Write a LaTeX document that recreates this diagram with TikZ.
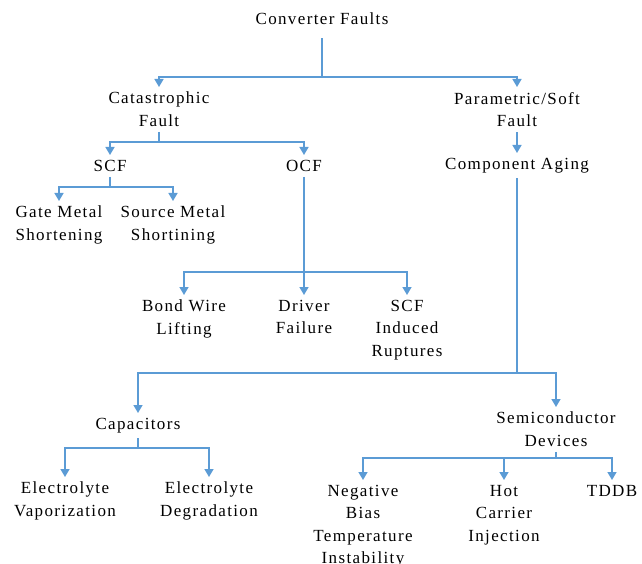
\documentclass[tikz,border=0pt]{standalone}
\usepackage{fontspec}
\setmainfont{Liberation Serif}[LetterSpace=8]
\usetikzlibrary{arrows.meta}
\definecolor{linkblue}{HTML}{5B9BD5}
\tikzset{
  label/.style={anchor=north, align=center, inner xsep=2pt, inner ysep=5pt,
    font=\fontsize{17}{22.5}\selectfont},
  link/.style={draw=linkblue, line width=1.5pt},
  arrowlink/.style={link, -{Triangle[length=8pt,width=9pt]}},
}
\begin{document}
\begin{tikzpicture}[x=1pt, y=-1pt]
\useasboundingbox (0,0) rectangle (642,564);

% fault categories
\node[label] (conv)   at (322,8)   {Converter Faults};
\node[label] (cat)    at (159,87)  {Catastrophic\\Fault};
\node[label] (par)    at (517,87)  {Parametric/Soft\\Fault};
\node[label] (scf)    at (110,155) {SCF};
\node[label] (ocf)    at (304,155) {OCF};
\node[label] (gate)   at (59,201)  {Gate Metal\\Shortening};
\node[label] (source) at (173,201) {Source Metal\\Shortining};
\node[label] (bond)   at (184,295) {Bond Wire\\Lifting};
\node[label] (driver) at (304,295) {Driver\\Failure};
\node[label] (rupt)   at (407,295) {SCF\\Induced\\Ruptures};
\node[label] (aging)  at (517,153) {Component Aging};
\node[label] (cap)    at (138,413) {Capacitors};
\node[label] (semi)   at (556,407) {Semiconductor\\Devices};
\node[label] (vap)    at (65,477)  {Electrolyte\\Vaporization};
\node[label] (deg)    at (209,477) {Electrolyte\\Degradation};
\node[label] (nbti)   at (363,480) {Negative\\Bias\\Temperature\\Instability};
\node[label] (hci)    at (504,480) {Hot\\Carrier\\Injection};
\node[label] (tddb)   at (612,480) {TDDB};

% branching points
\coordinate (j0) at (322,77);
\coordinate (j1) at (159,142);
\coordinate (j2) at (110,187);
\coordinate (j3) at (304,272);
\coordinate (j4) at (517,373);
\coordinate (j5) at (138,448);
\coordinate (j6) at (556,458);

% connectors
\draw[link, shorten <=8pt] (conv.south) -- (j0);
\draw[arrowlink] (j0) -| (cat.north);
\draw[arrowlink] (j0) -| (par.north);

\draw[link] (cat.south) -- (j1);
\draw[arrowlink] (j1) -| (scf.north);
\draw[arrowlink] (j1) -| (ocf.north);

\draw[link] (scf.south) -- (j2);
\draw[arrowlink] (j2) -| (gate.north);
\draw[arrowlink] (j2) -| (source.north);

\draw[link] (ocf.south) -- (j3);
\draw[arrowlink] (j3) -| (bond.north);
\draw[arrowlink] (j3) -- (driver.north);
\draw[arrowlink] (j3) -| (rupt.north);

\draw[arrowlink] (par.south) -- (aging.north);

\draw[link] (aging.south) -- (j4);
\draw[arrowlink] (j4) -| (cap.north);
\draw[arrowlink] (j4) -| (semi.north);

\draw[link] (cap.south) -- (j5);
\draw[arrowlink] (j5) -| (vap.north);
\draw[arrowlink] (j5) -| (deg.north);

\draw[link] (semi.south) -- (j6);
\draw[arrowlink] (j6) -| (nbti.north);
\draw[arrowlink] (j6) -| (hci.north);
\draw[arrowlink] (j6) -| (tddb.north);
\end{tikzpicture}
\end{document}
